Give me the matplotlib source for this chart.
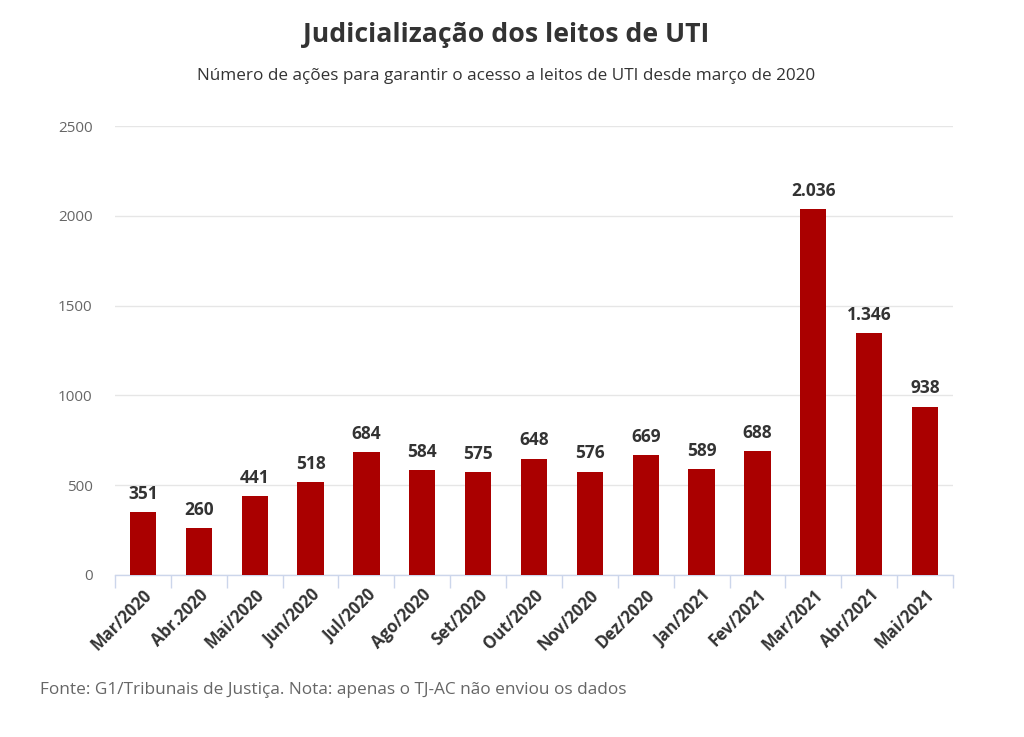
import matplotlib
matplotlib.use("Agg")
import matplotlib.pyplot as plt
import numpy as np

categories = ["Mar/2020", "Abr.2020", "Mai/2020", "Jun/2020", "Jul/2020", "Ago/2020",
              "Set/2020", "Out/2020", "Nov/2020", "Dez/2020", "Jan/2021", "Fev/2021",
              "Mar/2021", "Abr/2021", "Mai/2021"]
values = [351, 260, 441, 518, 684, 584, 575, 648, 576, 669, 589, 688, 2036, 1346, 938]
yticks = [0, 500, 1000, 1500, 2000, 2500]

def fmt(v):
    return f"{v:,}".replace(",", ".")

plt.rcParams['font.family'] = ['Open Sans', 'DejaVu Sans']

fig = plt.figure(figsize=(10.24, 7.37), dpi=100)
ax = fig.add_axes([115/1024, 1-575/737, (953-115)/1024, (575-126)/737])

x = np.arange(len(categories))
ax.bar(x, values, width=0.47, color="#aa0000", zorder=3)
for xi, v in zip(x, values):
    ax.annotate(fmt(v), (xi, v), xytext=(0, 9.5), textcoords="offset points",
                ha="center", va="baseline", fontsize=12.5,
                fontweight="bold", color="#333333", zorder=4)

ax.set_xlim(-0.5, len(categories) - 0.5)
ax.set_ylim(0, 2500)
ax.set_yticks(yticks)
ax.set_yticklabels([str(t) for t in yticks], fontsize=11, color="#666666")
ax.yaxis.grid(True, color="#e6e6e6", linewidth=1, zorder=0)
ax.tick_params(axis="y", length=0, pad=16)

ax.set_xticks(x)
ax.set_xticklabels(categories, rotation=45, ha="right", rotation_mode="anchor",
                   fontsize=12, fontweight="bold", color="#333333")
ax.tick_params(axis="x", length=0, pad=8)
ax.set_xticks(np.arange(-0.5, len(categories)), minor=True)
ax.tick_params(axis="x", which="minor", length=9, color="#ccd6eb", width=1)

for s in ["top", "right", "left"]:
    ax.spines[s].set_visible(False)
ax.spines["bottom"].set_color("#ccd6eb")
ax.spines["bottom"].set_linewidth(1)

fig.text(506/1024, 1-35/737, "Judicialização dos leitos de UTI", ha="center", va="center",
         fontsize=19.2, fontweight="bold", color="#333333")
fig.text(506/1024, 1-76/737, "Número de ações para garantir o acesso a leitos de UTI desde março de 2020",
         ha="center", va="center", fontsize=12.3, color="#333333")
fig.text(40/1024, 1-690/737, "Fonte: G1/Tribunais de Justiça. Nota: apenas o TJ-AC não enviou os dados",
         ha="left", va="center", fontsize=12.4, color="#666666")

fig.savefig("out.png", dpi=100, facecolor="white")
